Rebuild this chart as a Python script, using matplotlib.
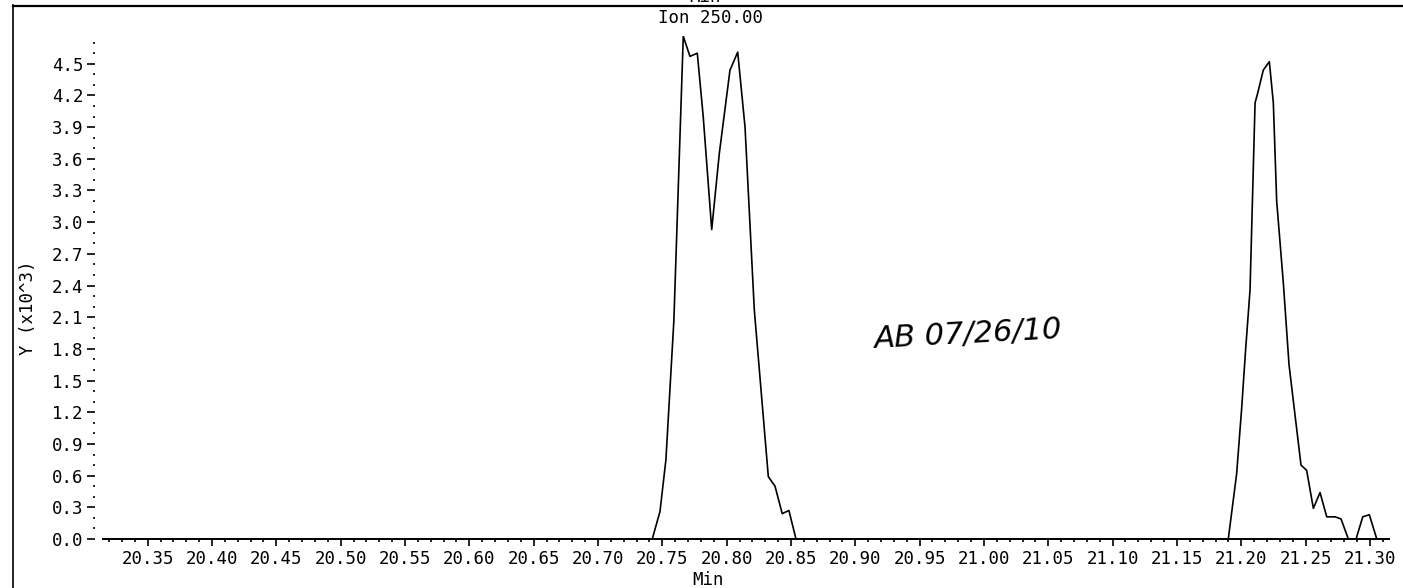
import matplotlib
matplotlib.use("Agg")
import matplotlib.pyplot as plt
from matplotlib.lines import Line2D
from matplotlib.ticker import MultipleLocator, FormatStrFormatter

# Ion 250.00 trace (Y in x10^3)
time_min = [20.316, 20.7422, 20.7482, 20.7528, 20.7590, 20.7663, 20.7715, 20.7772,
            20.7818, 20.7884, 20.7943, 20.8026, 20.8086, 20.8143, 20.8215, 20.8324,
            20.8376, 20.8432, 20.8484, 20.8539,
            21.1899, 21.1964, 21.2003, 21.2034, 21.2068, 21.2107, 21.2127, 21.2171,
            21.2218, 21.2249, 21.2275, 21.2327, 21.2371, 21.2417, 21.2464, 21.2508,
            21.2560, 21.2612, 21.2664, 21.2729, 21.2775, 21.2832, 21.2892, 21.2944,
            21.2995, 21.3053, 21.3150]
abund = [0, 0, 0.26, 0.75, 2.07, 4.76, 4.57, 4.60,
         4.00, 2.93, 3.65, 4.44, 4.61, 3.90, 2.17, 0.59,
         0.50, 0.24, 0.27, 0,
         0, 0.62, 1.24, 1.80, 2.36, 4.13, 4.22, 4.44,
         4.52, 4.13, 3.20, 2.42, 1.65, 1.18, 0.70, 0.65,
         0.29, 0.44, 0.21, 0.21, 0.19, 0, 0, 0.21,
         0.23, 0, 0]

title = "Ion 250.00"
xlabel = "Min"
ylabel = "Y (x10^3)"
note = "AB 07/26/10"

FONT = "DejaVu Sans Mono"
W, H = 1403, 588

fig = plt.figure(figsize=(W / 100, H / 100), dpi=100)
ax = fig.add_axes([103 / W, 1 - 539 / H, 1286 / W, (539 - 36.3) / H])

ax.plot(time_min, abund, color="black", lw=1.2)
ax.set_xlim(20.3153, 21.3148)
ax.set_ylim(0, 4.76)

# ticks like the printout: majors labelled, small minors in between
ax.xaxis.set_major_locator(MultipleLocator(0.05))
ax.xaxis.set_minor_locator(MultipleLocator(0.01))
ax.xaxis.set_major_formatter(FormatStrFormatter("%.2f"))
ax.yaxis.set_major_locator(MultipleLocator(0.3))
ax.yaxis.set_minor_locator(MultipleLocator(0.1))
ax.yaxis.set_major_formatter(FormatStrFormatter("%.1f"))

for s in ["top", "right", "left"]:
    ax.spines[s].set_visible(False)
ax.spines["bottom"].set_linewidth(1.4)
ax.spines["left"].set_position(("outward", 6))

ax.tick_params(axis="x", which="major", length=5, width=1.2, pad=3, direction="out")
ax.tick_params(axis="x", which="minor", length=2.2, width=1.2, direction="out")
ax.tick_params(axis="y", which="major", length=6, width=1.2, pad=2, direction="out")
ax.tick_params(axis="y", which="minor", length=1.5, width=1.2, direction="out")
for lab in ax.get_xticklabels() + ax.get_yticklabels():
    lab.set_fontfamily(FONT)
    lab.set_fontsize(12.5)

# texts placed where they sit on the page
fig.text(711 / W, 1 - 18 / H, title, ha="center", va="center", family=FONT, fontsize=12.5)
fig.text(708 / W, 1 - 580 / H, xlabel, ha="center", va="center", family=FONT, fontsize=12.5)
fig.text(705 / W, 1 + 3 / H, xlabel, ha="center", va="center", family=FONT, fontsize=12.5)
fig.text(28 / W, 1 - 308 / H, ylabel, ha="center", va="center", rotation=90, family=FONT, fontsize=12.5)

# handwritten initials and date
fig.text(968 / W, 1 - 335 / H, note, ha="center", va="center", fontsize=22,
         fontstyle="italic", fontweight="light", family="DejaVu Sans", rotation=3)

# page frame lines from the scan
fig.add_artist(Line2D([13 / W, 13 / W], [0, 1 - 5 / H], color="black", lw=1.2))
fig.add_artist(Line2D([13 / W, 1], [1 - 5.5 / H, 1 - 5.5 / H], color="black", lw=1.6))

fig.savefig("out.png", dpi=100)
